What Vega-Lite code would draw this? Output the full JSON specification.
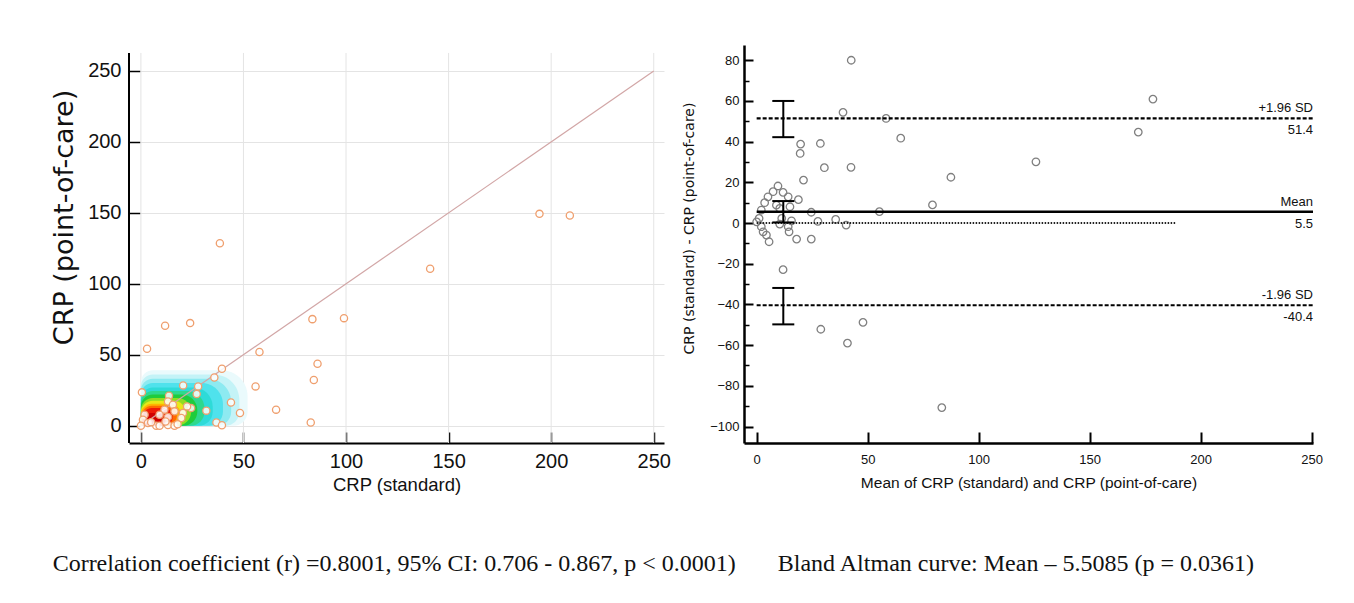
{
  "$schema": "https://vega.github.io/schema/vega-lite/v6.json",
  "background": "white",
  "padding": {"left": 50, "top": 45, "right": 5, "bottom": 5},
  "spacing": 11,
  "config": {"view": {"stroke": null}},
  "title": {
    "text": "Correlation coefficient (r) =0.8001, 95% CI: 0.706 - 0.867, p < 0.0001)\u00a0\u00a0\u00a0\u00a0\u00a0\u00a0\u00a0Bland Altman curve: Mean \u2013 5.5085 (p = 0.0361)",
    "orient": "bottom", "anchor": "start", "font": "Liberation Serif", "fontSize": 24,
    "fontWeight": "normal", "color": "#111", "offset": 58, "dx": 2
  },
  "hconcat": [
    {
      "width": 535,
      "height": 398,
      "layer": [
        {
          "data": {"values": [{"g": 0}, {"g": 50}, {"g": 100}, {"g": 150}, {"g": 200}, {"g": 250}]},
          "mark": {"type": "rule", "color": "#e4e4e4", "strokeWidth": 1},
          "encoding": {
            "x": {"field": "g", "type": "quantitative",
              "scale": {"domain": [-5.8, 255], "nice": false, "zero": false},
              "axis": {"values": [0, 50, 100, 150, 200, 250], "title": "CRP (standard)", "grid": false,
                "domainColor": "#000", "domainWidth": 2,
                "tickColor": "#000", "tickWidth": 1.5, "tickSize": -11,
                "labelFont": "Liberation Sans", "labelFontSize": 20, "labelColor": "#111", "labelPadding": 19,
                "titleFont": "Liberation Sans", "titleFontSize": 18.5, "titleFontWeight": "normal", "titleColor": "#111", "titlePadding": 4}},
            "y": {"datum": -12.2, "type": "quantitative",
              "scale": {"domain": [-12.2, 268.3], "nice": false, "zero": false},
              "axis": {"values": [0, 50, 100, 150, 200, 250], "title": "CRP (point-of-care)", "grid": true,
                "gridColor": "#e4e4e4", "gridWidth": 1, "domain": false,
                "tickColor": "#000", "tickWidth": 1.5, "tickSize": -11,
                "labelFont": "Liberation Sans", "labelFontSize": 20, "labelColor": "#111", "labelPadding": 19,
                "titleFont": "DejaVu Sans", "titleFontSize": 27, "titleFontWeight": "normal", "titleColor": "#111",
                "titlePadding": 9, "titleY": 172}},
            "y2": {"datum": 262.7}
          }
        },
        {
          "data": {"values": [{"g": -5.8}]},
          "mark": {"type": "rule", "color": "#000", "strokeWidth": 2},
          "encoding": {
            "x": {"field": "g", "type": "quantitative"},
            "y": {"datum": -12.2, "type": "quantitative"},
            "y2": {"datum": 262.7}
          }
        },
        {
          "data": {"values": [
            {"band": "w1", "x0": 0, "x1": 52, "y0": 0, "y1": 39},
            {"band": "c0", "x0": 0, "x1": 48, "y0": 0, "y1": 36},
            {"band": "c1", "x0": 0, "x1": 44, "y0": 0, "y1": 33},
            {"band": "c2", "x0": 0, "x1": 40, "y0": 0, "y1": 30},
            {"band": "c3", "x0": 0, "x1": 35, "y0": 0, "y1": 27},
            {"band": "g0", "x0": 0, "x1": 31, "y0": 0, "y1": 24.5},
            {"band": "g1", "x0": 0, "x1": 27.5, "y0": 0, "y1": 22},
            {"band": "g2", "x0": 0, "x1": 24.5, "y0": 0, "y1": 19.5},
            {"band": "y0", "x0": 0, "x1": 22, "y0": 0, "y1": 17.5},
            {"band": "o0", "x0": 0, "x1": 19.5, "y0": 0, "y1": 15.5},
            {"band": "o1", "x0": 0.5, "x1": 17.5, "y0": 0, "y1": 14},
            {"band": "r0", "x0": 1, "x1": 15.5, "y0": 0, "y1": 12.5},
            {"band": "r1", "x0": 2, "x1": 11, "y0": 0.5, "y1": 9}
          ]},
          "mark": {"type": "rect", "cornerRadiusTopRight": 26, "cornerRadiusBottomRight": 14, "cornerRadiusTopLeft": 12},
          "encoding": {
            "x": {"field": "x0", "type": "quantitative"},
            "x2": {"field": "x1"},
            "y": {"field": "y0", "type": "quantitative"},
            "y2": {"field": "y1"},
            "color": {"field": "band", "type": "nominal", "legend": null,
              "scale": {"domain": ["w1", "c0", "c1", "c2", "c3", "g0", "g1", "g2", "y0", "o0", "o1", "r0", "r1"],
                "range": ["#eafafc", "#c4f3f7", "#8deaf1", "#4fe2ec", "#2edbd8", "#2ed88e", "#1fcc3c", "#8fdc22", "#e8e818", "#ffb400", "#ff6a00", "#ee1a08", "#d00000"]}}
          }
        },
        {
          "data": {"values": [{"a": 0, "b": 0, "c": 250, "d": 250}]},
          "mark": {"type": "rule", "color": "#d2a6a6", "strokeWidth": 1.2},
          "encoding": {
            "x": {"field": "a", "type": "quantitative"},
            "y": {"field": "b", "type": "quantitative"},
            "x2": {"field": "c"},
            "y2": {"field": "d"}
          }
        },
        {
          "data": {"values": [
            {"s": 194.3, "p": 149.3}, {"s": 209.1, "p": 148.1}, {"s": 38.5, "p": 128.6}, {"s": 141, "p": 110.6},
            {"s": 83.6, "p": 75.1}, {"s": 99, "p": 75.8}, {"s": 11.8, "p": 70.4}, {"s": 24, "p": 72.3},
            {"s": 3, "p": 54.2}, {"s": 57.8, "p": 51.9}, {"s": 86.1, "p": 43.7}, {"s": 39.5, "p": 40.1},
            {"s": 35.8, "p": 34}, {"s": 84.3, "p": 32.2}, {"s": 55.9, "p": 27.7}, {"s": 20.6, "p": 28.4},
            {"s": 27.9, "p": 27.7}, {"s": 27.2, "p": 22.3}, {"s": 0.5, "p": 23.5}, {"s": 13.7, "p": 21.1},
            {"s": 43.9, "p": 16.4}, {"s": 65.9, "p": 11.3}, {"s": 48.3, "p": 8.9}, {"s": 31.9, "p": 10.6},
            {"s": 24.5, "p": 12.4}, {"s": 22.5, "p": 13.6}, {"s": 82.8, "p": 2.3}, {"s": 36.8, "p": 2.3},
            {"s": 39.5, "p": 0.3}, {"s": 13.2, "p": 17.1}, {"s": 15.6, "p": 14.8}, {"s": 11.5, "p": 11.3},
            {"s": 16.4, "p": 10.1}, {"s": 20.5, "p": 8.9}, {"s": 9.1, "p": 7.7}, {"s": 13.2, "p": 6.1},
            {"s": 19.7, "p": 5.4}, {"s": 1.8, "p": 7.7}, {"s": 1, "p": 4.2}, {"s": 3.4, "p": 1.9},
            {"s": 7.5, "p": 0}, {"s": 9.1, "p": 0}, {"s": 13.2, "p": 0.5}, {"s": 16.4, "p": 0},
            {"s": 17.9, "p": 1}, {"s": 0, "p": 0}, {"s": 5, "p": 2.5}, {"s": 12, "p": 3}
          ]},
          "mark": {"type": "point", "shape": "circle", "size": 52, "fill": "white", "fillOpacity": 0.85,
            "stroke": "#ef9f6e", "strokeWidth": 1.3, "opacity": 1},
          "encoding": {
            "x": {"field": "s", "type": "quantitative"},
            "y": {"field": "p", "type": "quantitative"}
          }
        }
      ]
    },
    {
      "width": 569,
      "height": 398,
      "resolve": {"axis": {"y": "independent"}},
      "layer": [
        {
          "data": {"values": [
            {"m": 42.6, "d": 80}, {"m": 178.5, "d": 60.9}, {"m": 38.9, "d": 54.4}, {"m": 58.3, "d": 51.4},
            {"m": 64.9, "d": 41.7}, {"m": 171.9, "d": 44.7}, {"m": 19.8, "d": 38.8}, {"m": 28.7, "d": 39.1},
            {"m": 19.6, "d": 34.2}, {"m": 30.5, "d": 27.2}, {"m": 42.5, "d": 27.4}, {"m": 125.8, "d": 30.1},
            {"m": 87.5, "d": 22.5}, {"m": 21.1, "d": 21.1}, {"m": 79.2, "d": 8.9}, {"m": 55.3, "d": 5.6},
            {"m": 18.8, "d": 11.5}, {"m": 35.6, "d": 1.8}, {"m": 40.3, "d": -1}, {"m": 27.6, "d": 0.8},
            {"m": 24.6, "d": 5.3}, {"m": 24.6, "d": -7.9}, {"m": 18, "d": -7.9}, {"m": 14.6, "d": -4.3},
            {"m": 15.7, "d": 1.1}, {"m": 11.9, "d": -22.9}, {"m": 28.9, "d": -52.2}, {"m": 47.9, "d": -48.8},
            {"m": 40.9, "d": -59}, {"m": 83.4, "d": -90.7}, {"m": 9.6, "d": 18.2}, {"m": 7.4, "d": 15.4},
            {"m": 11.9, "d": 15.1}, {"m": 5.1, "d": 12.9}, {"m": 14.2, "d": 12.9}, {"m": 3.6, "d": 10},
            {"m": 8.9, "d": 8.8}, {"m": 15, "d": 8}, {"m": 2.1, "d": 6.4}, {"m": 1.1, "d": 2.3},
            {"m": 0, "d": 0.6}, {"m": 10.4, "d": -0.5}, {"m": 14.2, "d": -1.8}, {"m": 2.1, "d": -1.8},
            {"m": 2.9, "d": -4.3}, {"m": 4.4, "d": -5.9}, {"m": 5.6, "d": -9.2}, {"m": 11.3, "d": 2.3},
            {"m": 10.4, "d": 7.2}
          ]},
          "mark": {"type": "point", "shape": "circle", "size": 56, "filled": false, "stroke": "#7f7f7f", "strokeWidth": 1.3, "opacity": 1},
          "encoding": {
            "x": {"field": "m", "type": "quantitative",
              "scale": {"domain": [-5.7, 250.6], "nice": false, "zero": false},
              "axis": {"values": [0, 50, 100, 150, 200, 250], "title": "Mean of CRP (standard) and CRP (point-of-care)",
                "grid": false, "domainColor": "#000", "domainWidth": 2.5, "tickColor": "#000", "tickWidth": 2, "tickSize": -11,
                "labelFont": "Liberation Sans", "labelFontSize": 13, "labelColor": "#111", "labelPadding": 21,
                "titleFont": "Liberation Sans", "titleFontSize": 15.5, "titleFontWeight": "normal", "titleColor": "#111", "titlePadding": 9}},
            "y": {"field": "d", "type": "quantitative",
              "scale": {"domain": [-108.1, 87.5], "nice": false, "zero": false},
              "axis": {"orient": "left", "values": [-100, -80, -60, -40, -20, 0, 20, 40, 60, 80], "title": "CRP (standard) - CRP (point-of-care)",
                "grid": false, "domainColor": "#000", "domainWidth": 2.5, "tickColor": "#000", "tickWidth": 2, "tickSize": -9,
                "labelFont": "Liberation Sans", "labelFontSize": 13, "labelColor": "#111", "labelPadding": 14,
                "titleFont": "DejaVu Sans", "titleFontSize": 14, "titleFontWeight": "normal", "titleColor": "#111",
                "titlePadding": 13, "titleY": 183}}
          }
        },
        {
          "data": {"values": [{"z": 0}]},
          "mark": {"type": "rule", "color": "#222", "strokeWidth": 2, "strokeDash": [1.5, 1.5]},
          "encoding": {
            "x": {"datum": 0, "type": "quantitative"},
            "x2": {"datum": 189},
            "y": {"field": "z", "type": "quantitative",
              "axis": {"orient": "left", "values": [-90, -70, -50, -30, -10, 10, 30, 50, 70], "labels": false, "domain": false,
                "grid": false, "title": null, "tickSize": -5, "tickWidth": 1.5, "tickColor": "#000"}}
          }
        },
        {
          "data": {"values": [{"v": 5.5}]},
          "mark": {"type": "rule", "color": "#000", "strokeWidth": 2.5},
          "encoding": {
            "x": {"datum": 0, "type": "quantitative"},
            "x2": {"datum": 250.6},
            "y": {"field": "v", "type": "quantitative", "axis": null}
          }
        },
        {
          "data": {"values": [{"v": 51.4}, {"v": -40.4}]},
          "mark": {"type": "rule", "color": "#000", "strokeWidth": 2.2, "strokeDash": [4, 2]},
          "encoding": {
            "x": {"datum": 0, "type": "quantitative"},
            "x2": {"datum": 250.6},
            "y": {"field": "v", "type": "quantitative", "axis": null}
          }
        },
        {
          "data": {"values": [{"lo": 42.2, "hi": 60}, {"lo": 0.3, "hi": 10.8}, {"lo": -49.8, "hi": -31.9}]},
          "layer": [
            {
              "mark": {"type": "rule", "color": "#000", "strokeWidth": 2},
              "encoding": {
                "x": {"datum": 12, "type": "quantitative"},
                "y": {"field": "lo", "type": "quantitative", "axis": null},
                "y2": {"field": "hi"}
              }
            },
            {
              "mark": {"type": "tick", "orient": "horizontal", "size": 22, "thickness": 2, "color": "#000", "opacity": 1},
              "encoding": {
                "x": {"datum": 12, "type": "quantitative"},
                "y": {"field": "lo", "type": "quantitative", "axis": null}
              }
            },
            {
              "mark": {"type": "tick", "orient": "horizontal", "size": 22, "thickness": 2, "color": "#000", "opacity": 1},
              "encoding": {
                "x": {"datum": 12, "type": "quantitative"},
                "y": {"field": "hi", "type": "quantitative", "axis": null}
              }
            }
          ]
        },
        {
          "data": {"values": [
            {"v": 51.4, "t": "+1.96 SD", "b": "51.4"},
            {"v": 5.5, "t": "Mean", "b": "5.5"},
            {"v": -40.4, "t": "-1.96 SD", "b": "-40.4"}
          ]},
          "layer": [
            {
              "mark": {"type": "text", "align": "right", "baseline": "bottom", "dy": -3, "font": "Liberation Sans", "fontSize": 13, "color": "#111"},
              "encoding": {
                "x": {"datum": 250.6, "type": "quantitative"},
                "y": {"field": "v", "type": "quantitative", "axis": null},
                "text": {"field": "t"}
              }
            },
            {
              "mark": {"type": "text", "align": "right", "baseline": "top", "dy": 6, "font": "Liberation Sans", "fontSize": 13, "color": "#111"},
              "encoding": {
                "x": {"datum": 250.6, "type": "quantitative"},
                "y": {"field": "v", "type": "quantitative", "axis": null},
                "text": {"field": "b"}
              }
            }
          ]
        }
      ]
    }
  ]
}
